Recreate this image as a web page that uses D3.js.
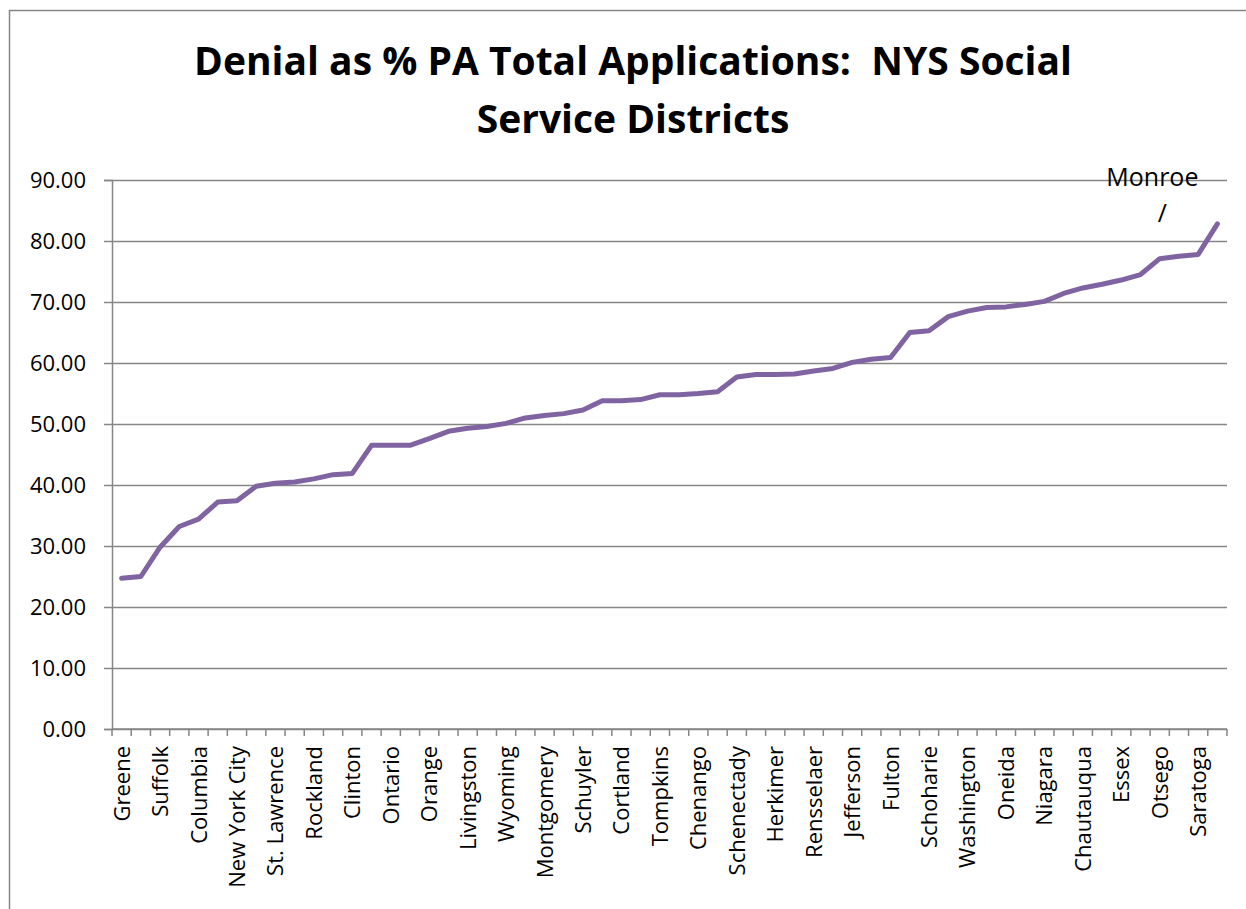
<!DOCTYPE html>
<html>
<head>
<meta charset="utf-8">
<script src="https://cdn.jsdelivr.net/npm/d3@7"></script>
<style>
  body { margin: 0; background: #fff; }
  svg { display: block; font-family: "Open Sans", sans-serif; }
</style>
</head>
<body>
<div class="canvas"></div>
<script>
// districts sorted by denial rate; only every other one is labelled on the axis,
// the unlabelled ones are left null (their names can't be read off the chart)
const districts = [
  'Greene', null, 'Suffolk', null, 'Columbia', null, 'New York City', null,
  'St. Lawrence', null, 'Rockland', null, 'Clinton', null, 'Ontario', null,
  'Orange', null, 'Livingston', null, 'Wyoming', null, 'Montgomery', null,
  'Schuyler', null, 'Cortland', null, 'Tompkins', null, 'Chenango', null,
  'Schenectady', null, 'Herkimer', null, 'Rensselaer', null, 'Jefferson', null,
  'Fulton', null, 'Schoharie', null, 'Washington', null, 'Oneida', null,
  'Niagara', null, 'Chautauqua', null, 'Essex', null, 'Otsego', null,
  'Saratoga', 'Monroe'
];

// denial as % of total PA applications
const denialPct = [
  24.7, 25.0, 29.8, 33.2, 34.4, 37.2, 37.4, 39.8,
  40.3, 40.5, 41.0, 41.7, 41.9, 46.5, 46.5, 46.5,
  47.6, 48.8, 49.3, 49.6, 50.1, 51.0, 51.4, 51.7,
  52.3, 53.8, 53.8, 54.0, 54.8, 54.8, 55.0, 55.3,
  57.7, 58.1, 58.1, 58.2, 58.7, 59.1, 60.1, 60.6,
  60.9, 65.0, 65.3, 67.6, 68.5, 69.1, 69.2, 69.6,
  70.1, 71.4, 72.3, 72.9, 73.6, 74.5, 77.1, 77.5,
  77.8, 82.8
];

const yTicks = [0, 10, 20, 30, 40, 50, 60, 70, 80, 90];
const titleLines = ['Denial as % PA Total Applications:  NYS Social', 'Service Districts'];
const annotated = 'Monroe';

const width = 1246, height = 909;
const plotLeft = 112, plotRight = 1227, plotTop = 180, plotBottom = 729;
const grey = '#868686';

const svg = d3.select('.canvas').append('svg')
    .attr('width', width)
    .attr('height', height);

// outer chart frame (runs off the right / bottom of the picture)
svg.append('rect')
    .attr('x', 9.5)
    .attr('y', 10.5)
    .attr('width', 1260)
    .attr('height', 920)
    .attr('fill', '#fff')
    .attr('stroke', grey)
    .attr('stroke-width', 1.5);

// title (keep the double space)
svg.append('text')
    .attr('text-anchor', 'middle')
    .attr('font-weight', 'bold')
    .attr('font-size', 39)
    .attr('fill', '#000')
    .style('white-space', 'pre')
    .selectAll('tspan')
    .data(titleLines)
    .join('tspan')
    .attr('x', 633)
    .attr('y', (d, i) => 75 + i * 58)
    .text(d => d);

const idx = d3.range(districts.length);

const x = d3.scaleBand()
    .domain(idx)
    .range([plotLeft, plotRight])
    .padding(0);

const y = d3.scaleLinear()
    .domain([0, 90])
    .range([plotBottom, plotTop]);

const cx = i => x(i) + x.bandwidth() / 2;

// gridlines
svg.append('g')
    .attr('transform', `translate(${plotLeft},0)`)
    .call(d3.axisLeft(y).tickValues(yTicks).tickSize(-(plotRight - plotLeft)).tickFormat(''))
    .call(g => g.select('.domain').remove())
    .call(g => g.selectAll('line').attr('stroke', grey).attr('stroke-width', 1.5));

// y axis
svg.append('g')
    .attr('transform', `translate(${plotLeft},0)`)
    .call(d3.axisLeft(y).tickValues(yTicks).tickSize(8).tickPadding(18).tickFormat(d3.format('.2f')))
    .call(g => g.select('.domain').attr('stroke', grey).attr('stroke-width', 1.5))
    .call(g => g.selectAll('line').attr('stroke', grey).attr('stroke-width', 1.5))
    .call(g => g.selectAll('text')
        .attr('font-family', '"Open Sans", sans-serif')
        .attr('font-size', 22)
        .attr('fill', '#000'));

// x axis line + tick marks between categories
const xAxis = svg.append('g');
xAxis.append('line')
    .attr('x1', plotLeft)
    .attr('x2', plotRight)
    .attr('y1', plotBottom)
    .attr('y2', plotBottom)
    .attr('stroke', grey)
    .attr('stroke-width', 1.5);

xAxis.selectAll('.xtick')
    .data(idx.concat([districts.length]))
    .join('line')
    .attr('class', 'xtick')
    .attr('x1', d => d < districts.length ? x(d) : plotRight)
    .attr('x2', d => d < districts.length ? x(d) : plotRight)
    .attr('y1', plotBottom)
    .attr('y2', plotBottom + 7)
    .attr('stroke', grey)
    .attr('stroke-width', 1.5);

// rotated category labels, every other district
xAxis.selectAll('.xlabel')
    .data(idx.filter(i => i % 2 === 0 && districts[i]))
    .join('text')
    .attr('class', 'xlabel')
    .attr('transform', i => `translate(${cx(i) + 8},${plotBottom + 17}) rotate(-90)`)
    .attr('text-anchor', 'end')
    .attr('font-size', 22)
    .attr('fill', '#000')
    .text(i => districts[i]);

// the line
const line = d3.line()
    .x(i => cx(i))
    .y(i => y(denialPct[i]));

svg.append('path')
    .datum(idx)
    .attr('d', line)
    .attr('fill', 'none')
    .attr('stroke', '#8064A2')
    .attr('stroke-width', 5)
    .attr('stroke-linejoin', 'round')
    .attr('stroke-linecap', 'round');

// Monroe annotation
const mi = districts.indexOf(annotated);
svg.append('text')
    .attr('x', cx(mi) - 65)
    .attr('y', 186)
    .attr('text-anchor', 'middle')
    .attr('font-size', 25)
    .attr('fill', '#000')
    .text(annotated);

svg.append('text')
    .attr('x', cx(mi) - 55)
    .attr('y', 222)
    .attr('text-anchor', 'middle')
    .attr('font-size', 25)
    .attr('fill', '#000')
    .text('/');
</script>
</body>
</html>
